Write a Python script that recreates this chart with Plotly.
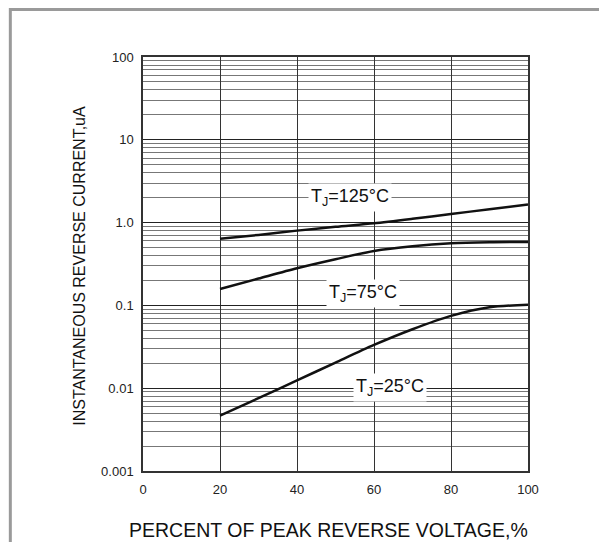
import plotly.graph_objects as go

# Data
x_pct = [20, 30, 40, 50, 60, 70, 80, 90, 100]
i_125 = [0.64, 0.71, 0.80, 0.89, 0.98, 1.11, 1.27, 1.45, 1.65]
i_75 = [0.158, 0.211, 0.281, 0.361, 0.455, 0.519, 0.563, 0.58, 0.585]
i_25 = [0.00467, 0.00757, 0.0124, 0.0204, 0.0333, 0.0515, 0.0747, 0.095, 0.102]

x_ticks = [0, 20, 40, 60, 80, 100]
x_ticktext = ["0", "20", "40", "60", "80", "100"]
y_ticks = [0.001, 0.01, 0.1, 1, 10, 100]
y_ticktext = ["0.001", "0.01", "0.1", "1.0", "10", "100"]
y_minor = [m * d for d in [0.001, 0.01, 0.1, 1, 10] for m in range(2, 10)]

labels = ["T<sub>J</sub>=125°C", "T<sub>J</sub>=75°C", "T<sub>J</sub>=25°C"]
label_x = [53.8, 57.2, 64.1]
label_logy = [0.298, -0.861, -1.996]

FONT = "Liberation Sans, Arial, sans-serif"

fig = go.Figure()
for ys in (i_125, i_75, i_25):
    fig.add_trace(go.Scatter(x=x_pct, y=ys, mode="lines",
                             line=dict(color="#111", width=2.5, shape="spline", smoothing=0.8),
                             showlegend=False, hoverinfo="skip"))

for t, lx, ly in zip(labels, label_x, label_logy):
    fig.add_annotation(x=lx, y=ly, xref="x", yref="y", text=t, showarrow=False,
                       bgcolor="white", borderpad=2,
                       font=dict(family=FONT, size=18, color="#111"))

fig.add_annotation(x=0.483, y=-0.1425, xref="paper", yref="paper", yanchor="middle",
                   text="PERCENT OF PEAK REVERSE VOLTAGE,%", showarrow=False,
                   font=dict(family=FONT, size=19.5, color="#111"))
fig.add_annotation(x=-0.167, y=0.495, xref="paper", yref="paper", xanchor="center",
                   text="INSTANTANEOUS REVERSE CURRENT,uA", showarrow=False, textangle=-90,
                   font=dict(family=FONT, size=16, color="#111"))

# outer frame (left/top visible)
fig.add_shape(type="rect", xref="paper", yref="paper",
              x0=-0.3446, x1=1.3, y0=-0.3, y1=1.1147,
              line=dict(color="#9a9a9a", width=3), layer="below")

fig.update_xaxes(range=[0, 100], tickvals=x_ticks, ticktext=x_ticktext,
                 showgrid=True, gridcolor="#333", gridwidth=1,
                 showline=True, mirror=True, linecolor="#333", linewidth=1.5,
                 ticks="", ticklabelstandoff=6, zeroline=False,
                 tickfont=dict(family=FONT, size=13, color="#222"))
fig.update_yaxes(type="log", range=[-3, 2], tickvals=y_ticks, ticktext=y_ticktext,
                 showgrid=True, gridcolor="#222", gridwidth=1,
                 minor=dict(tickvals=y_minor, showgrid=True, gridcolor="#777", gridwidth=1, ticks=""),
                 showline=True, mirror=True, linecolor="#333", linewidth=1.5,
                 ticks="", ticklabelstandoff=5, zeroline=False,
                 tickfont=dict(family=FONT, size=13, color="#222"))

# page body has an 8px margin; figure placed so the plot area lands at x 142.5-528.5, y 57-471
fig.update_layout(width=599, height=534, plot_bgcolor="white", paper_bgcolor="white",
                  margin=dict(l=134.5, r=78.5, t=49, b=71), showlegend=False)

fig.write_html("out.html")
